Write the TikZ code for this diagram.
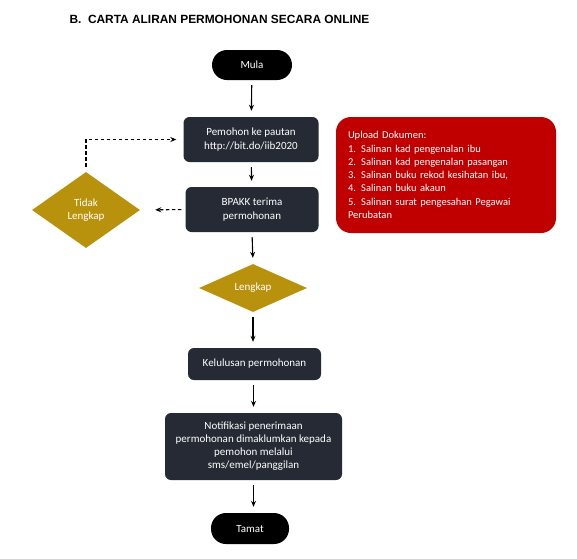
\documentclass[tikz,border=0pt]{standalone}
\usepackage{fontspec}
\setmainfont{Carlito}
\newfontfamily\titlefont{Liberation Sans}
\usetikzlibrary{shapes.geometric,arrows.meta}
\definecolor{navy}{HTML}{252A34}
\definecolor{gold}{HTML}{B8920C}
\definecolor{redbox}{HTML}{C00000}
\tikzset{
  proc/.style={rectangle,rounded corners=6pt,fill=navy,text=white,font=\fontsize{11}{13.5}\selectfont,align=center,inner sep=0pt},
  term/.style={rectangle,rounded corners=15pt,fill=black,text=white,font=\fontsize{11}{13.5}\selectfont,inner sep=0pt},
  dec/.style={diamond,fill=gold,text=white,font=\fontsize{11}{13.5}\selectfont,align=center,inner sep=0pt},
  flow/.style={-{Stealth[length=6pt,width=5pt]},line width=1.1pt,shorten <=5pt,shorten >=6pt},
  dflow/.style={flow,dashed,dash pattern=on 3.5pt off 2.5pt}
}
\begin{document}
\begin{tikzpicture}[x=1pt,y=-1pt]
\useasboundingbox[fill=white] (0,0) rectangle (577,558);
\node[anchor=west,font=\titlefont\bfseries\fontsize{11.9}{13}\selectfont] (title) at (66,19) {B.\ \ CARTA ALIRAN PERMOHONAN SECARA ONLINE};
\node[term,minimum width=80pt,minimum height=30pt] (mula) at (252,65) {Mula};
\node[proc,minimum width=135pt,minimum height=45pt] (b1) at (251,139.5) {Pemohon ke pautan\\http://bit.do/iib2020};
\node[proc,minimum width=133pt,minimum height=45pt] (b2) at (252,209.5) {BPAKK terima\\permohonan};
\node[dec,minimum width=108pt,minimum height=76pt] (tl) at (86,210) {Tidak\\Lengkap};
\node[rectangle,rounded corners=15pt,fill=redbox,text=white,minimum width=216pt,minimum height=116pt,text width=196pt,inner xsep=12pt,align=left,font=\fontsize{10.5}{13.3}\selectfont] (red) at (446,175) {Upload Dokumen:\\1. Salinan kad pengenalan ibu\\2. Salinan kad pengenalan pasangan\\3. Salinan buku rekod kesihatan ibu,\\4. Salinan buku akaun\\5. Salinan surat pengesahan Pegawai\\Perubatan};
\node[dec,minimum width=108pt,minimum height=48pt] (lk) at (253,288) {Lengkap};
\node[proc,minimum width=133pt,minimum height=32pt] (kel) at (254.5,364) {Kelulusan permohonan};
\node[proc,minimum width=177pt,minimum height=67pt,font=\fontsize{11}{13}\selectfont] (notif) at (253.5,446.5) {Notifikasi penerimaan\\permohonan dimaklumkan kepada\\pemohon melalui\\sms/emel/panggilan};
\node[term,minimum width=78pt,minimum height=31pt] (tamat) at (250,528.5) {Tamat};
\draw[flow] (mula) -- (b1);
\draw[flow] (b1) -- (b2);
\draw[flow] (b2.south) -- (lk.north);
\draw[flow] (lk.south) -- (lk.south |- kel.north);
\draw[flow] (kel.south -| notif.north) -- (notif.north);
\draw[flow] (notif.south) -- (notif.south |- tamat.north);
\draw[dflow,shorten <=4pt,shorten >=15pt] (b2.west) -- (tl.east);
\draw[dflow,shorten <=5pt,shorten >=7pt] (tl.north) |- (b1.west);
\end{tikzpicture}
\end{document}
